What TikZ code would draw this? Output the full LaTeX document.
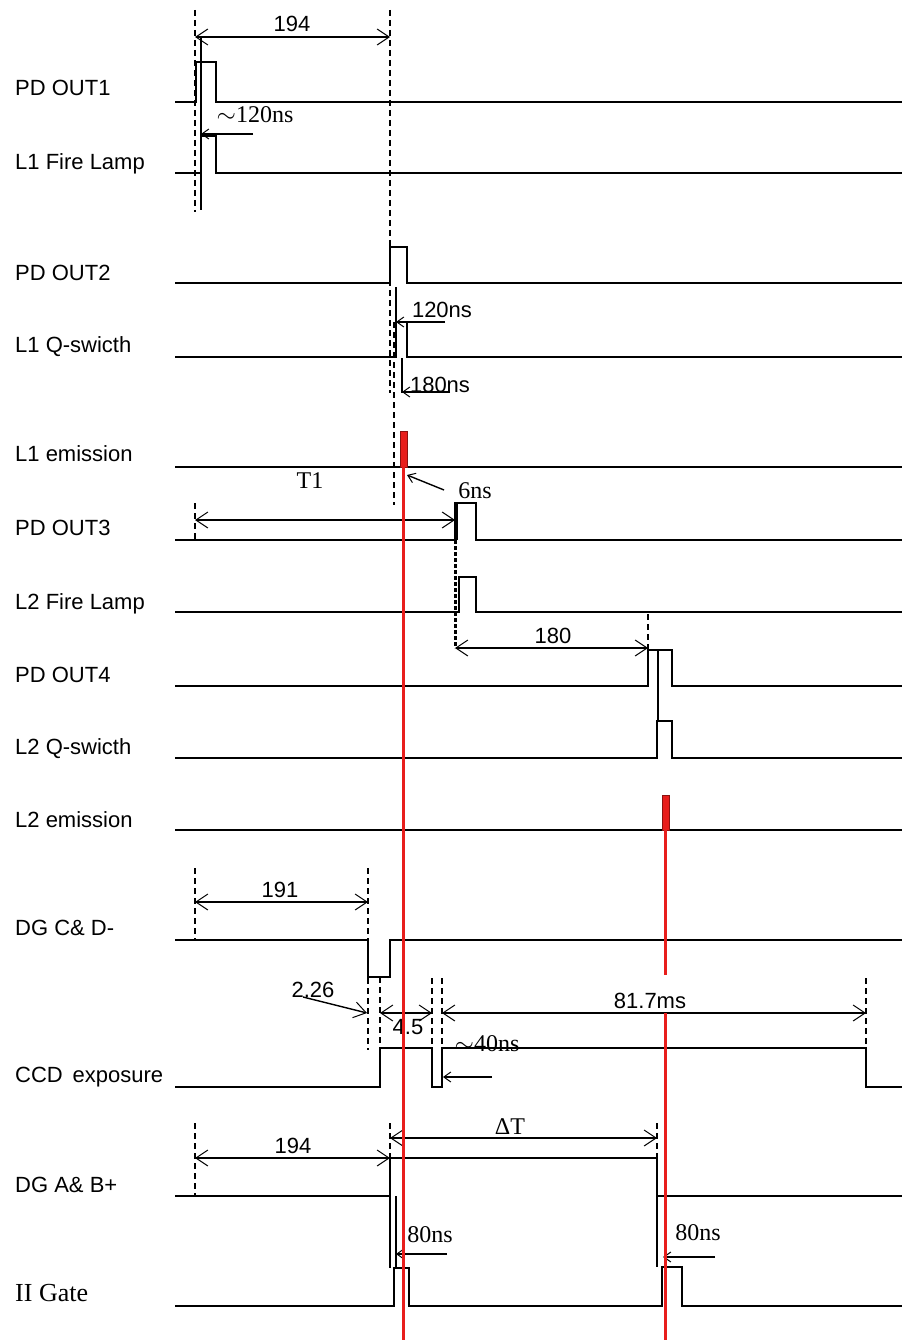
\documentclass[tikz,border=0pt]{standalone}
\usepackage{fontspec}
\setmainfont{Liberation Sans}
\newfontfamily\serfont{Liberation Serif}
\usetikzlibrary{arrows.meta}
\definecolor{laser}{RGB}{232,30,28}
\tikzset{
  >={Straight Barb[length=12pt,width=16pt,line width=1pt]},
  sg/.style={line width=1.8pt},
  ex/.style={line width=1.2pt,dash pattern=on 6pt off 4pt},
  xl/.style={line width=1.2pt},
  dm/.style={<->,line width=1.5pt},
  pt/.style={->,line width=1.4pt,>={Straight Barb[length=7pt,width=10pt,line width=1pt]}},
  em/.style={fill=laser,draw=laser!60!black,line width=0.8pt},
  rl/.style={draw=laser,line width=3pt},
  lb/.style={anchor=base west,inner sep=0pt,font=\fontsize{22}{24}\selectfont},
  nb/.style={inner sep=0pt,font=\fontsize{22}{24}\selectfont},
  ns/.style={inner sep=0pt,font=\serfont\fontsize{24}{26}\selectfont},
}

\begin{document}
\begin{tikzpicture}[x=1pt,y=-1pt]
\useasboundingbox (0,0) rectangle (902,1340);
\foreach \y/\t [count=\i] in {96/PD OUT1,170/L1 Fire Lamp,280/PD OUT2,352/L1 Q-swicth,461/L1 emission,535/PD OUT3,609/L2 Fire Lamp,682/PD OUT4,754/L2 Q-swicth,827/L2 emission,935/DG C\& D-,1082/CCD\hspace{0.45em}exposure,1192/DG A\& B+}{\node[lb] (sig\i) at (15,\y){\t};}
\node[lb,font=\serfont\fontsize{26}{28}\selectfont] (sig14) at (15,1301){II Gate};
\draw[sg] (175,102)-|(196,62)-|(216,102)--(902,102);
\draw[sg] (175,173)-|(201,136)-|(216,173)--(902,173);
\draw[sg] (175,283)-|(390,247)-|(407,283)--(902,283);
\draw[sg] (175,357)-|(396,322)-|(407,357)--(902,357);
\draw[sg] (175,467)--(902,467);
\draw[sg] (175,540)-|(455,503)-|(476,540)--(902,540);
\draw[sg] (175,612)-|(459,577)-|(476,612)--(902,612);
\draw[sg] (175,686)-|(648,650)-|(672,686)--(902,686);
\draw[sg] (175,758)-|(657,721)-|(672,758)--(902,758);
\draw[sg] (175,830)--(902,830);
\draw[sg] (175,940)-|(368,977)-|(390,940)--(902,940);
\draw[sg] (175,1087)-|(380,1048)-|(432,1087)-|(442,1048)-|(866,1087)--(902,1087);
\draw[sg] (175,1196)-|(390,1158)-|(657,1196)--(902,1196);
\draw[sg] (175,1306)-|(394,1268)-|(409,1306)-|(662,1267)-|(682,1306)--(902,1306);
\draw[ex] (195,10)--(195,212) (390,10)--(390,393) (394,322)--(394,505) (195,503)--(195,540) (648,614)--(648,650)
  (195,868)--(195,940) (368,868)--(368,1050) (380,977)--(380,1050) (432,978)--(432,1048) (442,978)--(442,1048) (866,978)--(866,1048)
  (195,1123)--(195,1196) (390,1123)--(390,1158) (657,1123)--(657,1158);
\draw[ex,line width=3pt,dash pattern=on 4pt off 2pt] (455,540)--(455,648);
\draw[xl] (201,37)--(201,210) (396,287)--(396,322) (402,358)--(402,393) (658,650)--(658,721)
  (390,1196)--(390,1268) (396,1196)--(396,1268) (657,1196)--(657,1267);
\draw[line width=3.5pt] (456,503)--(456,540);
\foreach \n/\xa/\xb/\y in {d1/195/390/37,d2/195/455/520,d3/455/648/648,d4/195/368/902,d5/380/432/1013,d6/442/866/1013,d7/195/390/1158,d8/390/657/1138}{\coordinate (\n a) at (\xa,\y); \coordinate (\n b) at (\xb,\y); \draw[dm] (\n a)--(\n b);}
\foreach \n/\xa/\ya/\xb/\yb in {p1/253/134/201/134,p2/445/322/396/322,p3/450/392/402/392,p4/444/490/407/475,p6/492/1077/443/1077,p7/447/1254/396/1254,p8/715/1257/663/1257}{\coordinate (\n a) at (\xa,\ya); \coordinate (\n b) at (\xb,\yb); \draw[pt] (\n a)--(\n b);}
\coordinate (p5a) at (303,997); \coordinate (p5b) at (367,1013); \draw[->,line width=1.4pt] (p5a)--(p5b);
\node[nb] (n194a) at (292,24){194};
\node[ns] (nT1) at (310,481){T1};
\node[nb] (n180) at (553,636){180};
\node[nb] (n191) at (280,890){191};
\node[nb] (n226) at (313,990){2.26};
\node[nb] (n45) at (408,1027){4.5};
\node[nb] (n817) at (650,1001){81.7ms};
\node[nb] (n194b) at (293,1146){194};
\node[ns] (ndT) at (510,1127){ΔT};
\node[ns] (n120a) at (255,115){$\sim$120ns};
\node[nb] (n120b) at (442,310){120ns};
\node[nb] (n180ns) at (440,385){180ns};
\node[ns] (n6) at (475,491){6ns};
\node[ns] (n40) at (487,1044){$\sim$40ns};
\node[ns] (n80a) at (430,1235){80ns};
\node[ns] (n80b) at (698,1233){80ns};
\draw[em] (400,431) rectangle (407,467);
\draw[em] (662,795) rectangle (669,830);
\draw[rl] (403,467)--(403,1340);
\draw[rl] (665,830)--(665,975) (665,1013)--(665,1340);
\end{tikzpicture}
\end{document}
